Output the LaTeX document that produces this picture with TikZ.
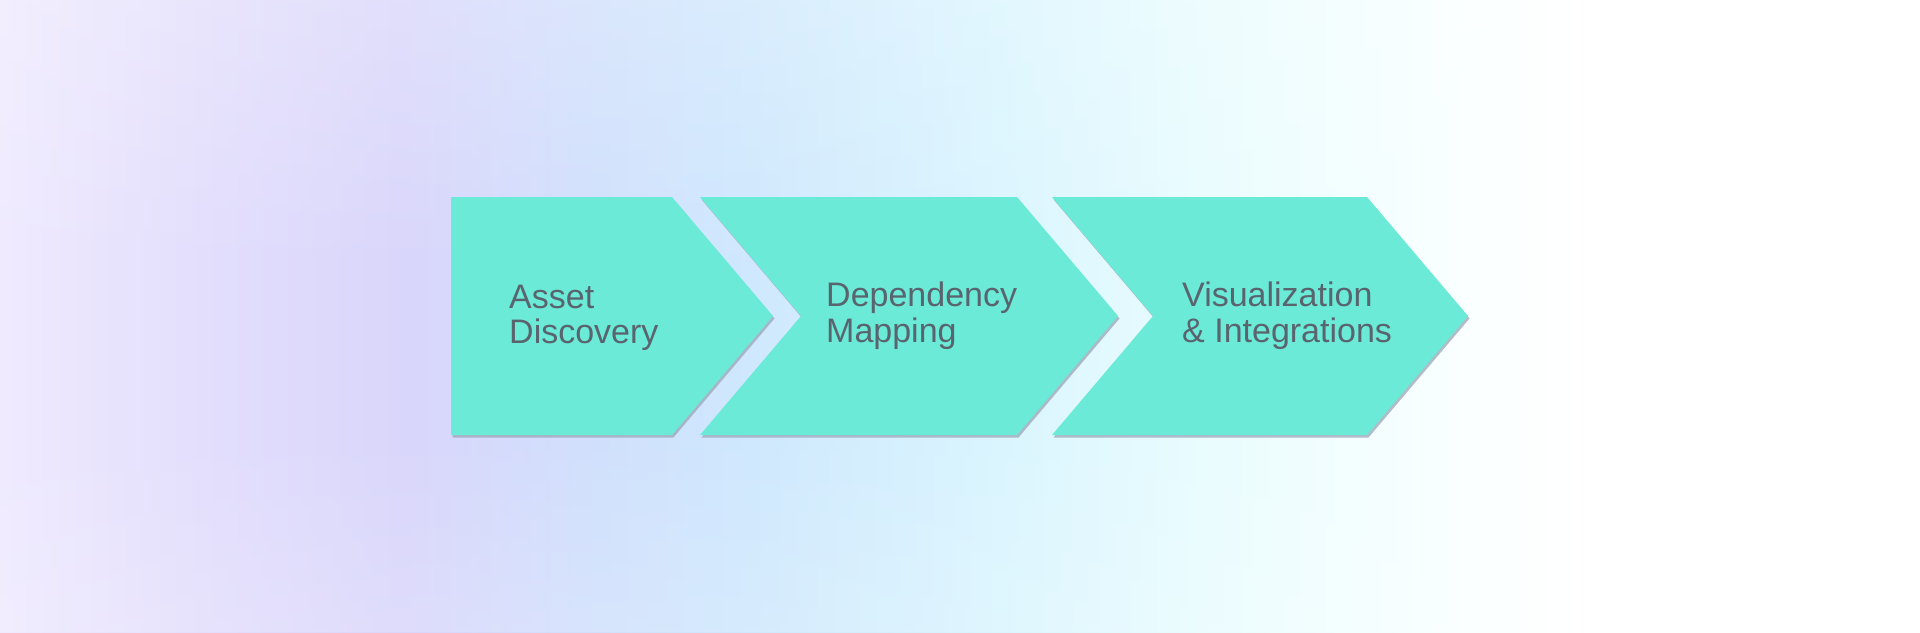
\documentclass[tikz,border=0pt]{standalone}
\usepackage{fontspec}
\setmainfont{Liberation Sans}
\usetikzlibrary{fadings}
\definecolor{teal1}{HTML}{6AEAD7}
\definecolor{txt}{HTML}{5A646E}
\definecolor{shd}{HTML}{9AA6B8}
\definecolor{c0}{HTML}{EFEAFE}
\definecolor{c1}{HTML}{E3DEFC}
\definecolor{c2}{HTML}{D9D6FB}
\definecolor{c3}{HTML}{D0E0FC}
\definecolor{c4}{HTML}{CFE8FD}
\definecolor{c5}{HTML}{DAF5FE}
\definecolor{c6}{HTML}{E9FCFE}
\definecolor{c7}{HTML}{F9FFFF}
\definecolor{c8}{HTML}{FFFFFF}
\tikzfading[name=topfade, top color=transparent!0, bottom color=transparent!100]
\tikzfading[name=botfade, top color=transparent!100, bottom color=transparent!0]
\tikzset{
  chev/.style={fill=teal1},
  chevshadow/.style={fill=shd, fill opacity=0.75},
  lbl/.style={text=txt, font=\fontsize{34}{35}\selectfont, align=left, inner sep=0pt},
}
\begin{document}
\begin{tikzpicture}[x=1pt,y=-1pt]
\useasboundingbox (0,0) rectangle (1920,632);
% background
\fill[left color=c0, right color=c1] (0,0) rectangle (201,632);
\fill[left color=c1, right color=c2] (200,0) rectangle (401,632);
\fill[left color=c2, right color=c3] (400,0) rectangle (601,632);
\fill[left color=c3, right color=c4] (600,0) rectangle (751,632);
\fill[left color=c4, right color=c5] (750,0) rectangle (1001,632);
\fill[left color=c5, right color=c6] (1000,0) rectangle (1201,632);
\fill[left color=c6, right color=c7] (1200,0) rectangle (1451,632);
\fill[left color=c7, right color=c8] (1450,0) rectangle (1581,632);
\fill[c8] (1580,0) rectangle (1920,632);
\fill[white, fill opacity=0.22, path fading=topfade] (0,0) rectangle (1920,280);
\fill[white, fill opacity=0.15, path fading=botfade] (0,420) rectangle (1920,632);
% shadows
\fill[chevshadow] ([shift={(1.5,2.5)}]451,197) -- ++(221,0) -- ++(101,119) -- ++(-101,119) -- ++(-221,0) -- cycle;
\fill[chevshadow] ([shift={(1.5,2.5)}]700,197) -- ++(317,0) -- ++(101,119) -- ++(-101,119) -- ++(-317,0) -- ++(101,-119) -- cycle;
\fill[chevshadow] ([shift={(1.5,2.5)}]1052,197) -- ++(315,0) -- ++(101,119) -- ++(-101,119) -- ++(-315,0) -- ++(101,-119) -- cycle;
% chevrons
\fill[chev] (451,197) -- (672,197) -- (773,316) -- (672,435) -- (451,435) -- cycle;
\fill[chev] (700,197) -- (1017,197) -- (1118,316) -- (1017,435) -- (700,435) -- (801,316) -- cycle;
\fill[chev] (1052,197) -- (1367,197) -- (1468,316) -- (1367,435) -- (1052,435) -- (1153,316) -- cycle;
% labels
\node[lbl, anchor=base west] (l1a) at (509,308) {Asset};
\node[lbl, anchor=base west] (l1b) at (509,343) {Discovery};
\node[lbl, anchor=base west] (l2a) at (826,306) {Dependency};
\node[lbl, anchor=base west] (l2b) at (826,342) {Mapping};
\node[lbl, anchor=base west] (l3a) at (1182,306) {Visualization};
\node[lbl, anchor=base west] (l3b) at (1182,342) {\& Integrations};
\end{tikzpicture}
\end{document}
